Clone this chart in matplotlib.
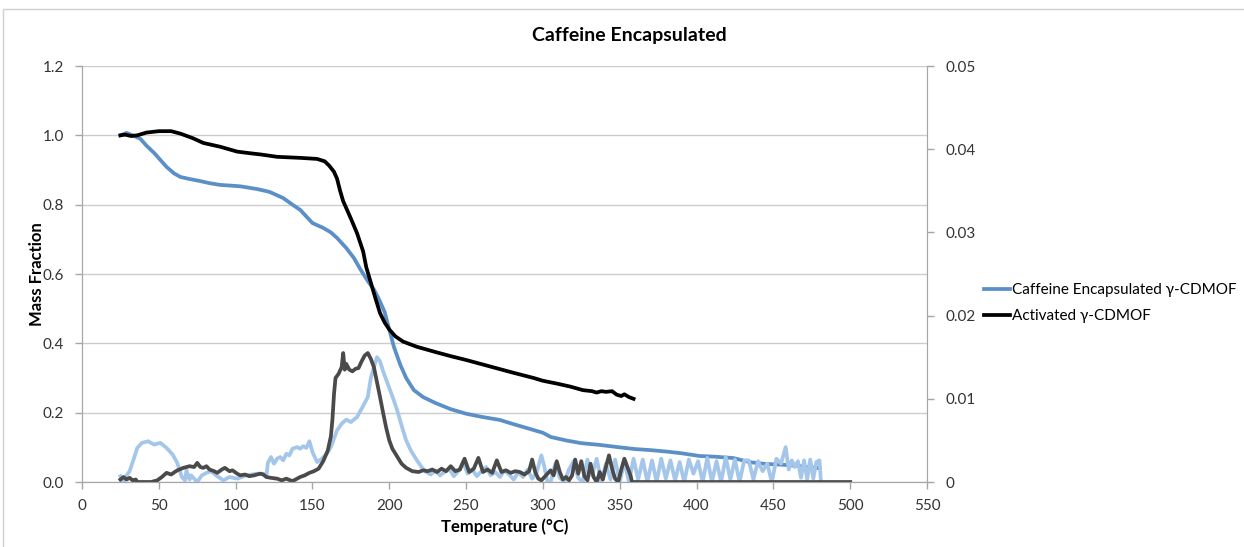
import matplotlib
matplotlib.use("Agg")
import matplotlib.pyplot as plt
from matplotlib.patches import Rectangle

plt.rcParams['font.family'] = ['Lato', 'DejaVu Sans']

# TGA, caffeine encapsulated g-CDMOF (mass fraction, left axis)
caf_T = [25, 29, 33, 38, 42, 47, 55, 60, 64, 70, 77, 83, 90, 103, 114, 122, 131, 137, 142,
         150, 157, 162, 166, 172, 177, 181, 186, 190, 193, 197, 200, 203, 207, 211, 216, 222,
         230, 240, 250, 260, 272, 280, 290, 300, 305, 315, 325, 337, 350, 360, 370, 380, 390,
         402, 412, 424, 435, 445, 455, 465, 472, 480]
caf_mass = [1.0, 1.007, 1.0, 0.99, 0.97, 0.949, 0.909, 0.89, 0.88, 0.874, 0.868, 0.862, 0.857,
            0.853, 0.845, 0.837, 0.819, 0.80, 0.785, 0.747, 0.733, 0.72, 0.704, 0.675, 0.646,
            0.615, 0.58, 0.555, 0.53, 0.49, 0.44, 0.39, 0.34, 0.30, 0.265, 0.245, 0.228, 0.21,
            0.197, 0.188, 0.179, 0.168, 0.155, 0.142, 0.13, 0.12, 0.112, 0.107, 0.10, 0.095,
            0.092, 0.088, 0.083, 0.075, 0.073, 0.069, 0.057, 0.052, 0.05, 0.047, 0.043, 0.04]

# TGA, activated g-CDMOF
act_T = [25, 28, 32, 36, 42, 50, 58, 64, 72, 79, 85, 90, 101, 110, 116, 127, 142, 153, 158,
         161, 164, 166, 168, 170, 175, 179, 183, 185, 188, 191, 194, 197, 200, 204, 209, 218,
         230, 240, 250, 260, 270, 280, 294, 300, 310, 318, 326, 332, 335, 338, 341, 345, 348,
         351, 353, 356, 359]
act_mass = [1.0, 1.002, 0.998, 1.0, 1.008, 1.012, 1.012, 1.005, 0.992, 0.978, 0.972, 0.967,
            0.953, 0.948, 0.945, 0.938, 0.935, 0.932, 0.925, 0.912, 0.895, 0.875, 0.84, 0.81,
            0.76, 0.718, 0.665, 0.62, 0.575, 0.53, 0.487, 0.46, 0.44, 0.42, 0.405, 0.39, 0.375,
            0.363, 0.352, 0.34, 0.328, 0.316, 0.30, 0.292, 0.283, 0.275, 0.265, 0.262, 0.258,
            0.262, 0.26, 0.262, 0.252, 0.248, 0.253, 0.245, 0.24]

# derivative, caffeine encapsulated (right axis)
caf_dT = [25, 27, 29, 31, 33, 36, 39, 43, 47, 51, 55, 59, 62, 65, 67, 68, 70, 71, 73, 75, 78,
          81, 84, 88, 92, 96, 101, 107, 114, 118, 120, 121, 123, 125, 127, 129, 131, 133, 135,
          137, 140, 142, 144, 146, 148, 150, 153, 156, 159, 162, 166, 169, 172, 175, 179, 182,
          186, 188, 190, 192, 194, 196, 198, 201, 203, 205, 208, 211, 214, 218, 221, 224,
          227, 230, 233, 236, 239, 242, 245, 248, 251, 254, 257, 260, 263, 266, 269, 272, 275,
          278, 281, 284, 287, 290, 293, 296, 299, 301, 303, 305, 308, 311, 314, 317, 320, 323,
          326, 329, 332, 335, 338, 341, 344, 347, 350, 353, 356, 359, 362, 365, 368, 371, 374,
          377, 380, 383, 386, 389, 392, 395, 398, 401, 404, 407, 410, 413, 416, 419, 422, 425,
          428, 431, 434, 437, 440, 443, 446, 449, 452, 455, 458, 460, 462, 464, 466, 468, 470,
          472, 474, 476, 478, 480, 481]
caf_deriv = [0.0007, 0.0, 0.0008, 0.0013, 0.0024, 0.0041, 0.0047, 0.0049, 0.0045, 0.0047,
             0.0041, 0.0033, 0.0023, 0.0006, 0.0002, 0.0014, 0.0003, 0.0008, 0.0004, 0.0,
             0.0008, 0.0011, 0.0013, 0.0007, 0.0002, 0.0006, 0.0004, 0.0008, 0.001, 0.001,
             0.0007, 0.0023, 0.003, 0.0022, 0.0028, 0.003, 0.0026, 0.0034, 0.0032, 0.004,
             0.0042, 0.004, 0.0043, 0.0041, 0.0049, 0.0036, 0.0024, 0.0028, 0.0033, 0.0042,
             0.0062, 0.007, 0.0075, 0.0072, 0.0078, 0.0088, 0.0102, 0.0125, 0.0138, 0.015,
             0.0145, 0.0133, 0.0123, 0.0108, 0.0098, 0.0087, 0.0068, 0.005, 0.0038, 0.0026,
             0.0018, 0.0012,
             0.0009, 0.0014, 0.0008, 0.0012, 0.0016, 0.0007, 0.0013, 0.0024, 0.001, 0.0015,
             0.0007, 0.0013, 0.0018, 0.0008, 0.0012, 0.0006, 0.0014, 0.0009, 0.0003, 0.0012,
             0.0006, 0.0015, 0.0004, 0.0012, 0.0032, 0.0018, 0.0, 0.0, 0.0022, 0.0005, 0.0,
             0.0015, 0.0025, 0.0005, 0.0, 0.0027, 0.0008, 0.0028, 0.0, 0.0022, 0.0003, 0.0027,
             0.0, 0.0025, 0.0, 0.0028, 0.0003, 0.0027, 0.0, 0.0026, 0.0, 0.0028, 0.0004,
             0.0026, 0.0002, 0.0024, 0.0, 0.0027, 0.001, 0.0025, 0.0, 0.0029, 0.0, 0.0025, 0.0,
             0.003, 0.0003, 0.0027, 0.0, 0.0026, 0.0026, 0.0003, 0.0025, 0.0013, 0.0022, 0.0,
             0.0028, 0.0022, 0.0042, 0.0015, 0.0026, 0.0018, 0.0025, 0.0005, 0.0026, 0.0003,
             0.0027, 0.0004, 0.0024, 0.0026, 0.0]

# derivative, activated
act_dT = [25, 27, 29, 31, 33, 35, 36, 45, 49, 52, 55, 58, 62, 66, 70, 73, 75, 77, 79, 81, 83,
          86, 88, 91, 93, 96, 98, 101, 103, 106, 109, 112, 116, 118, 120, 123, 127, 130, 133,
          137, 140, 142, 145, 148, 151, 154, 157, 160, 162, 163, 164, 165, 167, 169, 170, 171,
          172, 174, 176, 178, 180, 182, 184, 186, 188, 190, 192, 194, 196, 198, 200, 202, 205,
          208, 211, 215, 219, 222, 225, 228, 231, 234, 237, 240, 243, 246, 249, 252, 255, 258,
          261, 264, 267, 270, 273, 276, 279, 282, 285, 288, 291, 293, 295, 297, 299, 301, 303,
          305, 307, 309, 311, 313, 315, 317, 319, 321, 323, 325, 327, 329, 331, 333, 335, 337,
          339, 341, 343, 345, 347, 349, 351, 353, 355, 357, 358, 500]
act_deriv = [0.0003, 0.0006, 0.0003, 0.0005, 0.0002, 0.0003, 0.0, 0.0, 0.0002, 0.0006, 0.0011,
             0.0009, 0.0014, 0.0017, 0.0019, 0.0018, 0.0023, 0.0018, 0.0017, 0.0019, 0.0015,
             0.0013, 0.0011, 0.0015, 0.0017, 0.0013, 0.0014, 0.001, 0.0008, 0.0009, 0.0007,
             0.0008, 0.001, 0.0009, 0.0006, 0.0005, 0.0004, 0.0002, 0.0004, 0.0001, 0.0004,
             0.0006, 0.0008, 0.0011, 0.0013, 0.0016, 0.0025, 0.0038, 0.0055, 0.0075, 0.0105,
             0.0125, 0.013, 0.0138, 0.0155, 0.0135, 0.0142, 0.0135, 0.0133, 0.0136, 0.0137,
             0.0145, 0.0152, 0.0155, 0.0148, 0.0138, 0.012, 0.0102, 0.0083, 0.0065, 0.005,
             0.004, 0.0031, 0.0022, 0.0017, 0.0013, 0.0012, 0.0014, 0.0013, 0.0015, 0.0012,
             0.0016, 0.0013, 0.0019, 0.0013, 0.0015, 0.0028, 0.0012, 0.0016, 0.0029, 0.0012,
             0.0015, 0.0011, 0.0026, 0.0012, 0.0014, 0.0011, 0.0013, 0.0012, 0.0009, 0.0013,
             0.0027, 0.0012, 0.0004, 0.0002, 0.0006, 0.001, 0.0014, 0.0008, 0.0025, 0.0012,
             0.0003, 0.0006, 0.0002, 0.0008, 0.0027, 0.001, 0.0025, 0.0007, 0.0002, 0.0022,
             0.0006, 0.0, 0.0012, 0.0003, 0.0018, 0.0032, 0.0016, 0.0004, 0.0, 0.0015, 0.0028,
             0.0018, 0.0008, 0.0, 0.0]

fig = plt.figure(figsize=(12.44, 5.47), dpi=100)
fig.patches.append(Rectangle((3 / 1244, -0.1), 1.2, 1.1 - 9 / 547, transform=fig.transFigure,
                             fill=False, edgecolor="#d0d0d0", linewidth=1))
ax = fig.add_axes([82 / 1244, 1 - 482 / 547, 845 / 1244, 416 / 547])
ax2 = ax.twinx()

l1, = ax.plot(caf_T, caf_mass, color="#5b8fc8", lw=2.7, label="Caffeine Encapsulated γ-CDMOF")
l2, = ax.plot(act_T, act_mass, color="black", lw=2.7, label="Activated γ-CDMOF")
ax2.plot(caf_dT, caf_deriv, color="#a3c6ea", lw=2.7)
ax2.plot(act_dT, act_deriv, color="#4a4a4a", lw=2.7)

ax.set_xlim(0, 550)
ax.set_ylim(0, 1.2)
ax2.set_ylim(0, 0.05)
ax.set_xticks(range(0, 551, 50))
ax.set_yticks([0, 0.2, 0.4, 0.6, 0.8, 1.0, 1.2])
ax.set_yticklabels(["0.0", "0.2", "0.4", "0.6", "0.8", "1.0", "1.2"])
ax2.set_yticks([0, 0.01, 0.02, 0.03, 0.04, 0.05])
ax2.set_yticklabels(["0", "0.01", "0.02", "0.03", "0.04", "0.05"])

ax.grid(axis="y", color="#cccccc", lw=1)
ax.set_axisbelow(True)
for a in (ax, ax2):
    a.spines["top"].set_visible(False)
    for s in ("left", "bottom", "right"):
        a.spines[s].set_color("#a6a6a6")
    a.tick_params(colors="#a6a6a6", labelcolor="#333333", labelsize=11, length=5, width=1)
ax.tick_params(axis="y", pad=8)
ax2.tick_params(axis="y", pad=8)
ax.tick_params(axis="x", pad=7)

ax.set_xlabel("Temperature (°C)", fontsize=12, fontweight="bold", labelpad=4)
ax.set_ylabel("Mass Fraction", fontsize=12, fontweight="bold")
ax.yaxis.set_label_coords(-0.044, 0.5)
fig.text(0.506, 1 - 36 / 547, "Caffeine Encapsulated", ha="center", va="center",
         fontsize=14, fontweight="bold")

fig.legend(handles=[l1, l2], loc="upper left", bbox_to_anchor=(978 / 1244, 1 - 277 / 547),
           frameon=False, fontsize=11, handlelength=1.7, handletextpad=0.1,
           labelspacing=0.8, borderaxespad=0)

fig.savefig("out.png", dpi=100)
